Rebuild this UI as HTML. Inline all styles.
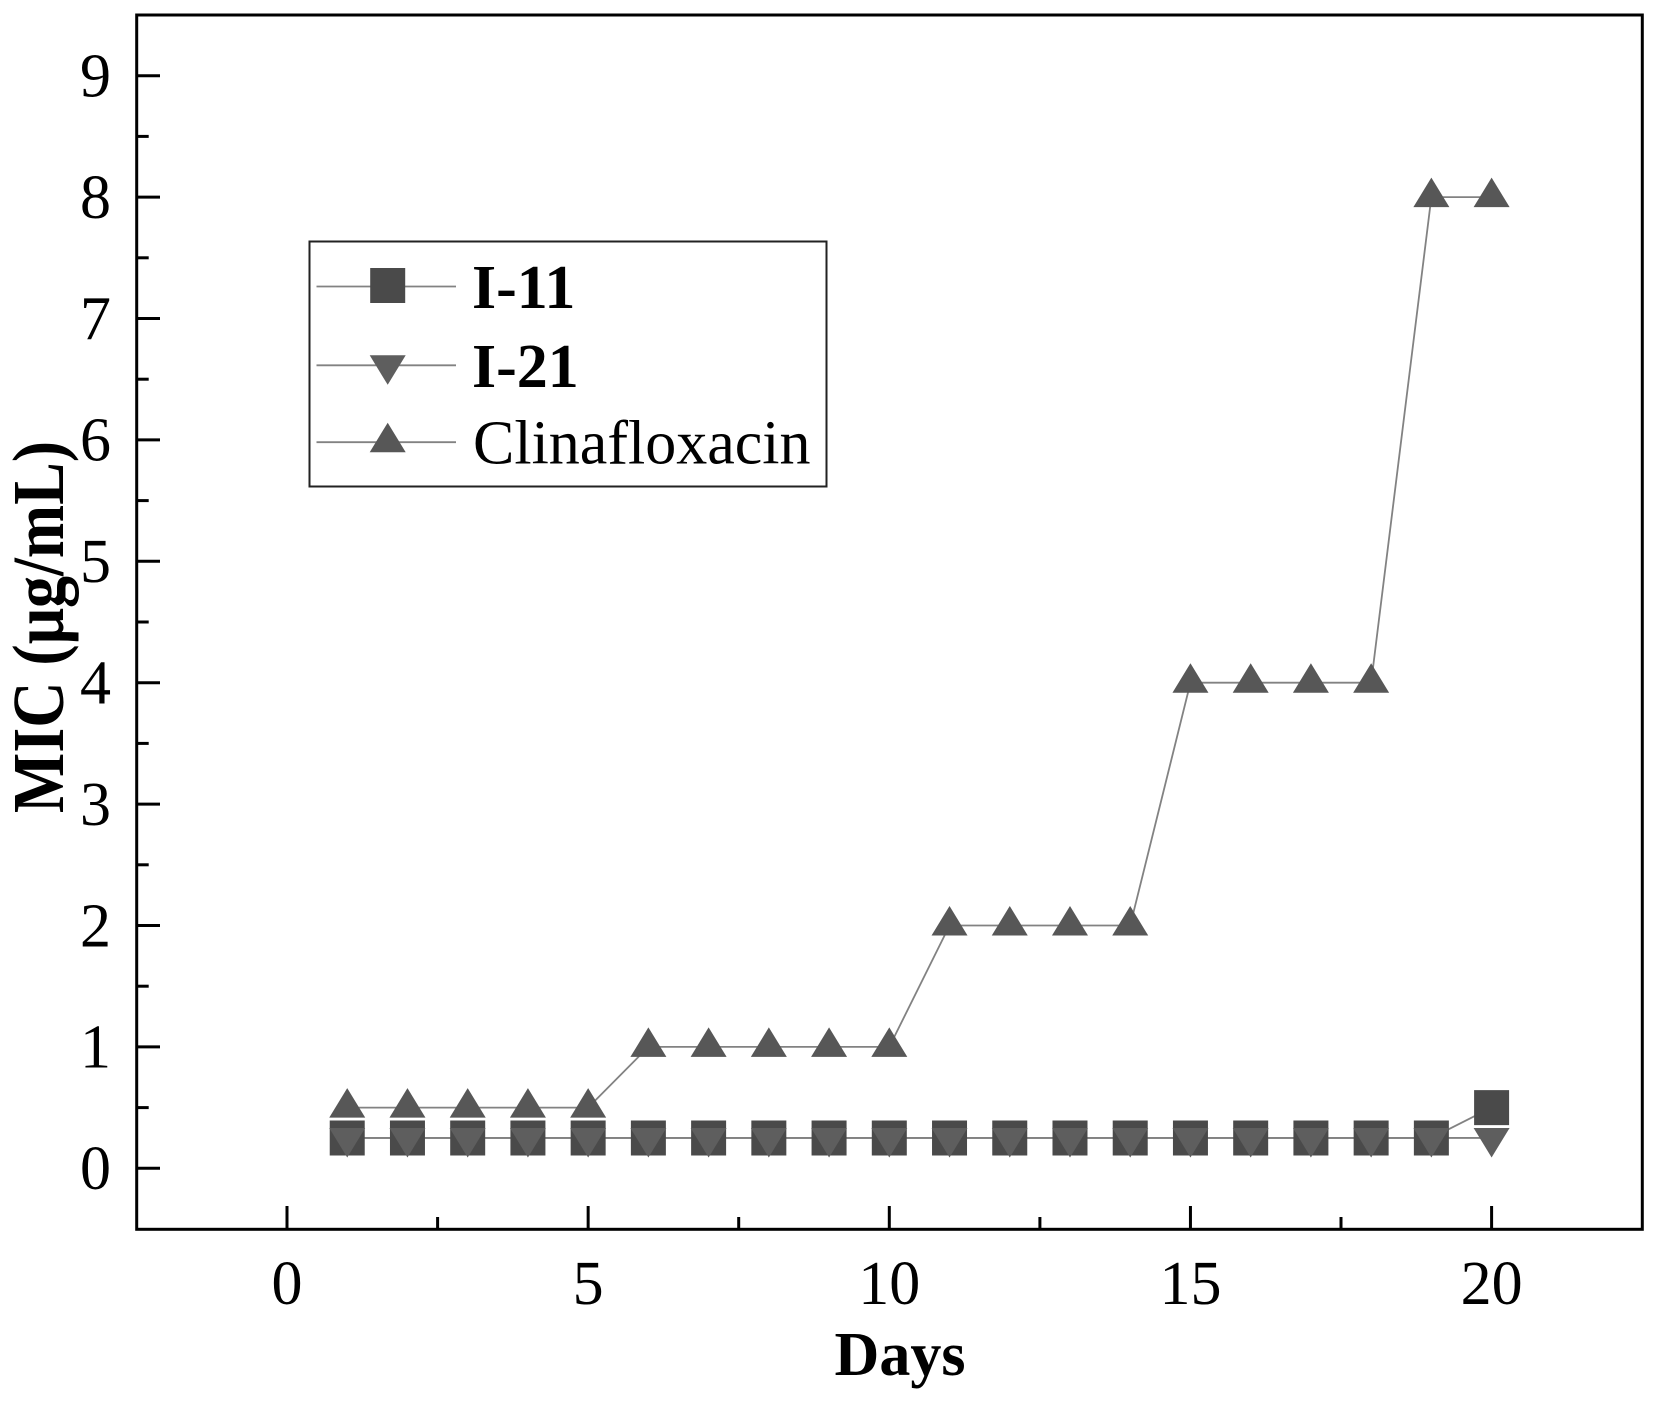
<!DOCTYPE html>
<html>
<head>
<meta charset="utf-8">
<style>
html,body{margin:0;padding:0;background:#fff;}
svg{display:block;}
text{font-family:"Liberation Serif","DejaVu Serif",serif;fill:#000;}
</style>
</head>
<body>
<svg width="1658" height="1402" viewBox="0 0 1658 1402" xmlns="http://www.w3.org/2000/svg">
<defs>
<path id="sq" d="M-17.5,-17.5 h35 v35 h-35 Z" fill="#4a4a4a"/>
<path id="dn" d="M-18,-10 L18,-10 L0,19.5 Z" fill="#5e5e5e"/>
<path id="up" d="M0,-19.5 L18,10 L-18,10 Z" fill="#575757"/>
</defs>
<rect width="1658" height="1402" fill="#fff"/>

<!-- frame -->
<rect x="136.7" y="15" width="1505.6" height="1214.3" fill="none" stroke="#000" stroke-width="3"/>

<!-- y ticks -->
<g stroke="#000" stroke-width="3">
<line x1="136.7" y1="75.7" x2="160" y2="75.7"/>
<line x1="136.7" y1="197.1" x2="160" y2="197.1"/>
<line x1="136.7" y1="318.5" x2="160" y2="318.5"/>
<line x1="136.7" y1="439.9" x2="160" y2="439.9"/>
<line x1="136.7" y1="561.3" x2="160" y2="561.3"/>
<line x1="136.7" y1="682.7" x2="160" y2="682.7"/>
<line x1="136.7" y1="804.1" x2="160" y2="804.1"/>
<line x1="136.7" y1="925.5" x2="160" y2="925.5"/>
<line x1="136.7" y1="1046.9" x2="160" y2="1046.9"/>
<line x1="136.7" y1="1168.3" x2="160" y2="1168.3"/>
<line x1="136.7" y1="136.4" x2="148.7" y2="136.4"/>
<line x1="136.7" y1="257.8" x2="148.7" y2="257.8"/>
<line x1="136.7" y1="379.2" x2="148.7" y2="379.2"/>
<line x1="136.7" y1="500.6" x2="148.7" y2="500.6"/>
<line x1="136.7" y1="622.0" x2="148.7" y2="622.0"/>
<line x1="136.7" y1="743.4" x2="148.7" y2="743.4"/>
<line x1="136.7" y1="864.8" x2="148.7" y2="864.8"/>
<line x1="136.7" y1="986.2" x2="148.7" y2="986.2"/>
<line x1="136.7" y1="1107.6" x2="148.7" y2="1107.6"/>
<!-- x ticks -->
<line x1="287" y1="1229.3" x2="287" y2="1206"/>
<line x1="588.15" y1="1229.3" x2="588.15" y2="1206"/>
<line x1="889.3" y1="1229.3" x2="889.3" y2="1206"/>
<line x1="1190.45" y1="1229.3" x2="1190.45" y2="1206"/>
<line x1="1491.6" y1="1229.3" x2="1491.6" y2="1206"/>
<line x1="437.6" y1="1229.3" x2="437.6" y2="1217"/>
<line x1="738.7" y1="1229.3" x2="738.7" y2="1217"/>
<line x1="1039.9" y1="1229.3" x2="1039.9" y2="1217"/>
<line x1="1341.0" y1="1229.3" x2="1341.0" y2="1217"/>
</g>

<!-- y tick labels -->
<g font-size="62" text-anchor="end">
<text x="111" y="96.5">9</text>
<text x="111" y="217.9">8</text>
<text x="111" y="339.3">7</text>
<text x="111" y="460.7">6</text>
<text x="111" y="582.1">5</text>
<text x="111" y="703.5">4</text>
<text x="111" y="824.9">3</text>
<text x="111" y="946.3">2</text>
<text x="111" y="1067.7">1</text>
<text x="111" y="1189.1">0</text>
</g>
<!-- x tick labels -->
<g font-size="62" text-anchor="middle">
<text x="287" y="1304">0</text>
<text x="588.15" y="1304">5</text>
<text x="889.3" y="1304">10</text>
<text x="1190.45" y="1304">15</text>
<text x="1491.6" y="1304">20</text>
</g>

<!-- axis titles -->
<text x="900" y="1375" font-size="62" font-weight="bold" text-anchor="middle">Days</text>
<text transform="translate(63,627) rotate(-90) scale(1,1.14)" font-size="64" font-weight="bold" text-anchor="middle">MIC (μg/mL)</text>

<!-- series lines -->
<g fill="none" stroke="#828282" stroke-width="1.8">
<polyline points="347.23,1137.95 407.46,1137.95 467.69,1137.95 527.92,1137.95 588.15,1137.95 648.38,1137.95 708.61,1137.95 768.84,1137.95 829.07,1137.95 889.3,1137.95 949.53,1137.95 1009.76,1137.95 1069.99,1137.95 1130.22,1137.95 1190.45,1137.95 1250.68,1137.95 1310.91,1137.95 1371.14,1137.95 1431.37,1137.95 1491.6,1107.6"/>
<polyline points="347.23,1137.95 1491.6,1137.95"/>
<polyline points="347.23,1107.6 588.15,1107.6 648.38,1046.9 889.3,1046.9 949.53,925.5 1130.22,925.5 1190.45,682.7 1371.14,682.7 1431.37,197.1 1491.6,197.1"/>
</g>

<!-- I-11 squares -->
<g>
<use href="#sq" x="347.23" y="1137.95"/>
<use href="#sq" x="407.46" y="1137.95"/>
<use href="#sq" x="467.69" y="1137.95"/>
<use href="#sq" x="527.92" y="1137.95"/>
<use href="#sq" x="588.15" y="1137.95"/>
<use href="#sq" x="648.38" y="1137.95"/>
<use href="#sq" x="708.61" y="1137.95"/>
<use href="#sq" x="768.84" y="1137.95"/>
<use href="#sq" x="829.07" y="1137.95"/>
<use href="#sq" x="889.3" y="1137.95"/>
<use href="#sq" x="949.53" y="1137.95"/>
<use href="#sq" x="1009.76" y="1137.95"/>
<use href="#sq" x="1069.99" y="1137.95"/>
<use href="#sq" x="1130.22" y="1137.95"/>
<use href="#sq" x="1190.45" y="1137.95"/>
<use href="#sq" x="1250.68" y="1137.95"/>
<use href="#sq" x="1310.91" y="1137.95"/>
<use href="#sq" x="1371.14" y="1137.95"/>
<use href="#sq" x="1431.37" y="1137.95"/>
<use href="#sq" x="1491.6" y="1107.6"/>
</g>
<!-- I-21 down triangles -->
<g>
<use href="#dn" x="347.23" y="1137.95"/>
<use href="#dn" x="407.46" y="1137.95"/>
<use href="#dn" x="467.69" y="1137.95"/>
<use href="#dn" x="527.92" y="1137.95"/>
<use href="#dn" x="588.15" y="1137.95"/>
<use href="#dn" x="648.38" y="1137.95"/>
<use href="#dn" x="708.61" y="1137.95"/>
<use href="#dn" x="768.84" y="1137.95"/>
<use href="#dn" x="829.07" y="1137.95"/>
<use href="#dn" x="889.3" y="1137.95"/>
<use href="#dn" x="949.53" y="1137.95"/>
<use href="#dn" x="1009.76" y="1137.95"/>
<use href="#dn" x="1069.99" y="1137.95"/>
<use href="#dn" x="1130.22" y="1137.95"/>
<use href="#dn" x="1190.45" y="1137.95"/>
<use href="#dn" x="1250.68" y="1137.95"/>
<use href="#dn" x="1310.91" y="1137.95"/>
<use href="#dn" x="1371.14" y="1137.95"/>
<use href="#dn" x="1431.37" y="1137.95"/>
<use href="#dn" x="1491.6" y="1137.95"/>
</g>
<!-- Clinafloxacin up triangles -->
<g>
<use href="#up" x="347.23" y="1107.6"/>
<use href="#up" x="407.46" y="1107.6"/>
<use href="#up" x="467.69" y="1107.6"/>
<use href="#up" x="527.92" y="1107.6"/>
<use href="#up" x="588.15" y="1107.6"/>
<use href="#up" x="648.38" y="1046.9"/>
<use href="#up" x="708.61" y="1046.9"/>
<use href="#up" x="768.84" y="1046.9"/>
<use href="#up" x="829.07" y="1046.9"/>
<use href="#up" x="889.3" y="1046.9"/>
<use href="#up" x="949.53" y="925.5"/>
<use href="#up" x="1009.76" y="925.5"/>
<use href="#up" x="1069.99" y="925.5"/>
<use href="#up" x="1130.22" y="925.5"/>
<use href="#up" x="1190.45" y="682.7"/>
<use href="#up" x="1250.68" y="682.7"/>
<use href="#up" x="1310.91" y="682.7"/>
<use href="#up" x="1371.14" y="682.7"/>
<use href="#up" x="1431.37" y="197.1"/>
<use href="#up" x="1491.6" y="197.1"/>
</g>

<!-- legend -->
<rect x="309.5" y="241.5" width="517" height="245" fill="#fff" stroke="#222" stroke-width="2"/>
<g stroke="#828282" stroke-width="1.8">
<line x1="316.5" y1="286.5" x2="456" y2="286.5"/>
<line x1="316.5" y1="365.3" x2="456" y2="365.3"/>
<line x1="316.5" y1="442.2" x2="456" y2="442.2"/>
</g>
<use href="#sq" x="387.7" y="285.5"/>
<use href="#dn" x="387.7" y="365.3"/>
<use href="#up" x="387.7" y="442.2"/>
<text x="472" y="308" font-size="62" font-weight="bold">I-11</text>
<text x="472" y="387" font-size="62" font-weight="bold">I-21</text>
<text x="473" y="463.5" font-size="62">Clinafloxacin</text>
</svg>
</body>
</html>
